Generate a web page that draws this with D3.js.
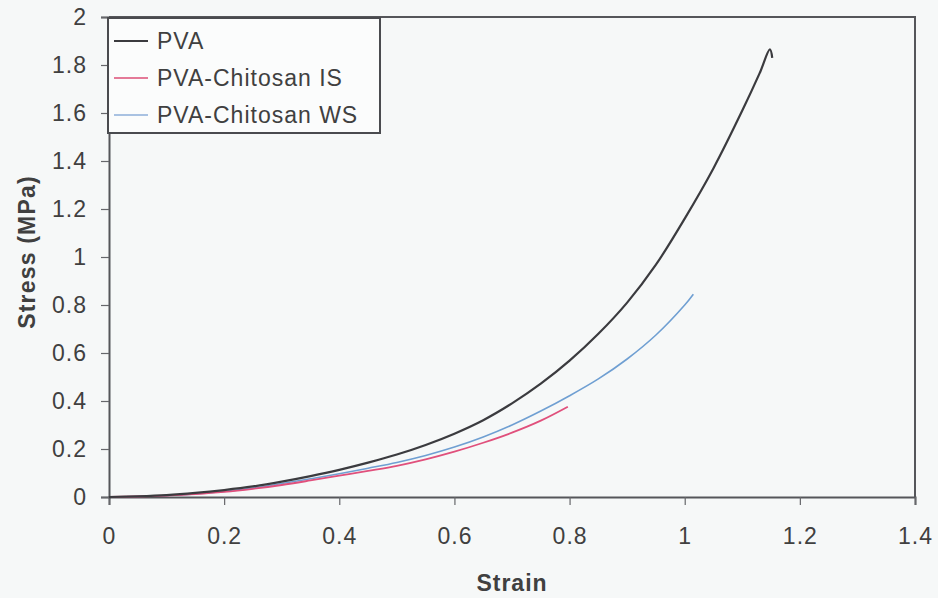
<!DOCTYPE html>
<html>
<head>
<meta charset="utf-8">
<script src="https://cdn.jsdelivr.net/npm/d3@7"></script>
<style>
  html, body { margin: 0; padding: 0; background: #f6f8f8; }
  svg { display: block; }
  text { font-family: "Liberation Sans", Arial, sans-serif; fill: #404040; }
</style>
</head>
<body>
<svg id="chart" width="938" height="598"></svg>
<script>
// Tensile stress-strain data (strain, stress in MPa)
const seriesNames = ["PVA", "PVA-Chitosan IS", "PVA-Chitosan WS"];

const strainPVA = [0, 0.05, 0.1, 0.15, 0.2, 0.25, 0.3, 0.35, 0.4, 0.45, 0.5, 0.55, 0.6, 0.65, 0.7, 0.75, 0.8, 0.85, 0.9, 0.95, 1.0, 1.05, 1.1, 1.13, 1.148, 1.152];
const stressPVA = [0, 0.003, 0.008, 0.017, 0.029, 0.044, 0.064, 0.087, 0.113, 0.143, 0.177, 0.217, 0.264, 0.32, 0.39, 0.472, 0.568, 0.68, 0.81, 0.968, 1.16, 1.37, 1.61, 1.765, 1.865, 1.83];

const strainIS = [0, 0.05, 0.1, 0.15, 0.2, 0.25, 0.3, 0.35, 0.4, 0.45, 0.5, 0.55, 0.6, 0.65, 0.7, 0.75, 0.797];
const stressIS = [0, 0.002, 0.006, 0.012, 0.021, 0.034, 0.05, 0.069, 0.089, 0.109, 0.13, 0.157, 0.189, 0.226, 0.268, 0.318, 0.376];

const strainWS = [0, 0.05, 0.1, 0.15, 0.2, 0.25, 0.3, 0.35, 0.4, 0.45, 0.5, 0.55, 0.6, 0.65, 0.7, 0.75, 0.8, 0.85, 0.9, 0.95, 1.0, 1.015];
const stressWS = [0, 0.002, 0.006, 0.013, 0.023, 0.037, 0.056, 0.076, 0.097, 0.12, 0.144, 0.173, 0.208, 0.25, 0.3, 0.358, 0.422, 0.492, 0.575, 0.675, 0.8, 0.845];

const xTicks = [0, 0.2, 0.4, 0.6, 0.8, 1, 1.2, 1.4];
const yTicks = [0, 0.2, 0.4, 0.6, 0.8, 1, 1.2, 1.4, 1.6, 1.8, 2];

const lineColors = ["#3b3b3f", "#e0507c", "#6f9fd2"];
const legendColors = ["#3b3b3f", "#e47a98", "#a9c2e2"];

const svg = d3.select("#chart");
const plotLeft = 109, plotRight = 915, plotTop = 17, plotBottom = 497;

const x = d3.scaleLinear().domain([0, 1.4]).range([plotLeft, plotRight]);
const y = d3.scaleLinear().domain([0, 2]).range([plotBottom, plotTop]);

// plot frame (top and right edges)
svg.append("path")
  .attr("d", `M${plotLeft},${plotTop}H${plotRight}V${plotBottom}`)
  .attr("fill", "none")
  .attr("stroke", "#55565a")
  .attr("stroke-width", 2);

// axes
const fmt = d => String(d);
const xAxis = svg.append("g")
  .attr("transform", `translate(0,${plotBottom})`)
  .call(d3.axisBottom(x).tickValues(xTicks).tickFormat(fmt).tickSize(8).tickPadding(23));
const yAxis = svg.append("g")
  .attr("transform", `translate(${plotLeft},0)`)
  .call(d3.axisLeft(y).tickValues(yTicks).tickFormat(fmt).tickSize(8).tickPadding(14));

[xAxis, yAxis].forEach(g => {
  g.select(".domain").attr("stroke", "#55565a").attr("stroke-width", 2);
  g.selectAll(".tick line").attr("stroke", "#66676b").attr("stroke-width", 1.2);
  g.selectAll(".tick text")
    .attr("fill", "#404040")
    .style("font-family", "'Liberation Sans', Arial, sans-serif")
    .style("font-size", "23px")
    .style("letter-spacing", "1px");
});

// curves
const line = d3.line()
  .x(d => x(d[0]))
  .y(d => y(d[1]))
  .curve(d3.curveCatmullRom.alpha(0.5));

const series = [
  { xs: strainWS, ys: stressWS, color: lineColors[2], w: 1.6 },
  { xs: strainIS, ys: stressIS, color: lineColors[1], w: 1.8 },
  { xs: strainPVA, ys: stressPVA, color: lineColors[0], w: 2.2 }
];
series.forEach(s => {
  svg.append("path")
    .datum(d3.zip(s.xs, s.ys))
    .attr("d", line)
    .attr("fill", "none")
    .attr("stroke", s.color)
    .attr("stroke-width", s.w)
    .attr("stroke-linejoin", "round");
});

// axis titles
svg.append("text")
  .attr("x", (plotLeft + plotRight) / 2)
  .attr("y", 591)
  .attr("text-anchor", "middle")
  .style("font-size", "23px")
  .style("font-weight", "bold")
  .style("letter-spacing", "1px")
  .text("Strain");

svg.append("text")
  .attr("transform", `translate(35,252) rotate(-90)`)
  .attr("text-anchor", "middle")
  .style("font-size", "23px")
  .style("font-weight", "bold")
  .style("letter-spacing", "1.2px")
  .text("Stress (MPa)");

// legend
const legend = svg.append("g");
legend.append("rect")
  .attr("x", 108).attr("y", 18)
  .attr("width", 272).attr("height", 115)
  .attr("fill", "#fbfcfc")
  .attr("stroke", "#4a4b4f")
  .attr("stroke-width", 2);

seriesNames.forEach((name, i) => {
  const cy = 41 + i * 37;
  legend.append("line")
    .attr("x1", 114).attr("x2", 148)
    .attr("y1", cy).attr("y2", cy)
    .attr("stroke", legendColors[i])
    .attr("stroke-width", 2);
  legend.append("text")
    .attr("x", 157).attr("y", cy + 8)
    .style("font-size", "23px")
    .style("letter-spacing", "1px")
    .text(name);
});
</script>
</body>
</html>
